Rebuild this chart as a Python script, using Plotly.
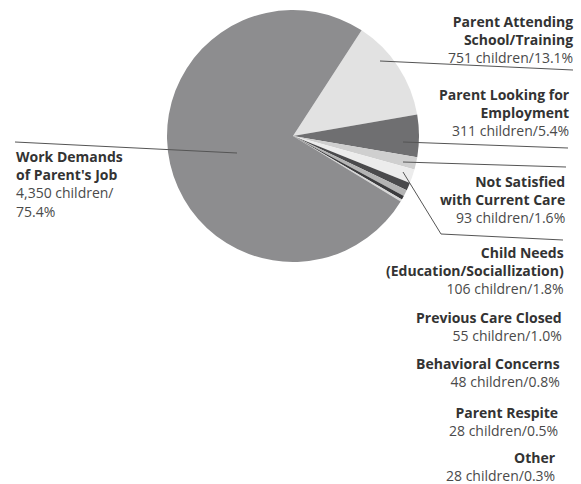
import plotly.graph_objects as go

W, H = 581, 484

categories = ["Parent Attending School/Training", "Parent Looking for Employment",
              "Not Satisfied with Current Care", "Child Needs (Education/Sociallization)",
              "Previous Care Closed", "Behavioral Concerns", "Parent Respite", "Other",
              "Work Demands of Parent's Job"]
children = [751, 311, 93, 106, 55, 48, 28, 28, 4350]
percents = [13.1, 5.4, 1.6, 1.8, 1.0, 0.8, 0.5, 0.3, 75.4]
colors = ["#e2e2e2", "#6f6f71", "#cfcfcf", "#ececec", "#4a4a4c",
          "#b4b4b4", "#3c3c3e", "#d6d6d6", "#8d8d8f"]

# label text blocks (bold lines)
label_bold = [["Parent Attending", "School/Training"],
              ["Parent Looking for", "Employment"],
              ["Not Satisfied", "with Current Care"],
              ["Child Needs", "(Education/Sociallization)"],
              ["Previous Care Closed"],
              ["Behavioral Concerns"],
              ["Parent Respite"],
              ["Other"],
              ["Work Demands", "of Parent's Job"]]


def fmt_count(n):
    return f"{n:,}"


def px(x):
    return x / W


def py(y):
    return 1 - y / H


fig = go.Figure(go.Pie(
    labels=categories,
    values=percents,
    customdata=children,
    sort=False,
    direction="clockwise",
    rotation=33,
    marker=dict(colors=colors, line=dict(width=0)),
    textinfo="none",
    hovertemplate="%{label}<br>%{customdata} children/%{value}%<extra></extra>",
    domain=dict(x=[px(167), px(419)], y=[py(262), py(10)]),
    showlegend=False,
))

# block centre positions (pixels) and anchors
block_y = [39, 112, 200, 270, 326, 372, 421, 466, 184]
right_x = [575, 572, 567, 566, 564, 562, 560, 558]

FONT = "Open Sans"
annotations = []
for i, cat in enumerate(categories):
    bold = label_bold[i]
    if i < 8:
        regular = [f"{fmt_count(children[i])} children/{percents[i]:.1f}%"]
        xa, xanc = right_x[i], "right"
    else:
        regular = [f"{fmt_count(children[i])} children/", f"{percents[i]:.1f}%"]
        xa, xanc = 14, "left"
    parts = [f"<b>{t}</b>" for t in bold] + \
            [f"<span style='color:#4a4a4a'>{t}</span>" for t in regular]
    annotations.append(dict(
        x=px(xa), y=py(block_y[i]), xref="paper", yref="paper",
        xanchor=xanc, yanchor="middle", align=xanc, showarrow=False,
        text="<br>".join(parts),
        font=dict(family=FONT, size=14, color="#333333"),
    ))

# leader lines (pixel coordinates of the callouts)
leaders = [
    [(380, 61), (573, 70)],
    [(403, 142), (568, 148)],
    [(403, 162), (566, 167)],
    [(403, 172), (441, 234), (563, 240)],
    [(15, 142), (237, 153)],
]
shapes = []
for pts in leaders:
    for (x0, y0), (x1, y1) in zip(pts[:-1], pts[1:]):
        shapes.append(dict(type="line", xref="paper", yref="paper",
                           x0=px(x0), y0=py(y0), x1=px(x1), y1=py(y1),
                           line=dict(color="#555555", width=1)))

fig.update_layout(
    width=W, height=H,
    margin=dict(l=0, r=0, t=0, b=0),
    paper_bgcolor="white", plot_bgcolor="white",
    annotations=annotations, shapes=shapes,
)

fig.write_html("out.html")
